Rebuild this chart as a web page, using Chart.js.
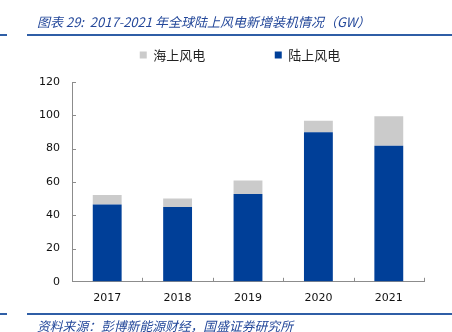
<!DOCTYPE html>
<html><head><meta charset="utf-8">
<script src="https://cdn.jsdelivr.net/npm/chart.js@4.4.1/dist/chart.umd.min.js"></script>
<style>
html,body{margin:0;padding:0;background:#fff;}
body{width:452px;height:332px;position:relative;overflow:hidden;font-family:"Noto Sans CJK SC","DejaVu Sans",sans-serif;}
#title{position:absolute;left:37px;top:12px;font-size:13px;font-style:italic;color:#24489a;white-space:nowrap;z-index:2;}
#footer{position:absolute;left:37px;top:318px;font-size:12.8px;line-height:15px;font-style:italic;color:#24489a;white-space:nowrap;z-index:2;}
.ln{position:absolute;height:2px;background:#2f5ea6;z-index:2;}
#wrap{position:absolute;left:0;top:-21px;width:452px;height:340px;}
</style></head><body>
<div id="wrap"><canvas id="c" width="452" height="340"></canvas></div>
<div id="title">图表 29:&nbsp; 2017-2021 年全球陆上风电新增装机情况（GW）</div>
<div class="ln" style="left:0;width:7px;top:34px"></div>
<div class="ln" style="left:27px;width:425px;top:34px"></div>
<div class="ln" style="left:0;width:7px;top:313px"></div>
<div class="ln" style="left:27px;width:425px;top:313px"></div>
<div id="footer">资料来源：彭博新能源财经，国盛证券研究所</div>
<script>
const categories = ["2017","2018","2019","2020","2021"];
const onshore = [46.4, 45.0, 52.8, 89.8, 81.7];
const offshore = [5.8, 5.0, 8.0, 7.0, 17.7];
const yTicks = [0,20,40,60,80,100,120];

const innerTicks = {
  id:'innerTicks',
  afterInit(chart){
    const lg = chart.legend;
    if (lg) {
      const f = lg.fit;
      lg.fit = function(){ f.call(this); this.height = 103; if (this.lineWidths) this.lineWidths[0] -= 16; };
    }
  },
  afterDraw(chart){
    const x = chart.scales.x, y = chart.scales.y, ctx = chart.ctx;
    const y0 = y.getPixelForValue(0);
    const x0 = Math.round(chart.chartArea.left);
    ctx.save();
    ctx.strokeStyle = '#8c8c8c'; ctx.lineWidth = 1;
    for (let i = 0; i < categories.length; i++) {
      const px = Math.round(x.getPixelForValue(i + 0.5)) + 0.5;
      ctx.beginPath(); ctx.moveTo(px, y0); ctx.lineTo(px, y0 - 4); ctx.stroke();
    }
    yTicks.forEach(v => {
      if (v === 0) return;
      const py = Math.round(y.getPixelForValue(v)) + 0.5;
      ctx.beginPath(); ctx.moveTo(x0, py); ctx.lineTo(x0 + 4, py); ctx.stroke();
    });
    ctx.restore();
  }
};

new Chart(document.getElementById('c'), {
  type:'bar',
  data:{
    labels: categories,
    datasets:[
      {label:'陆上风电', data:onshore, backgroundColor:'#003f98', borderWidth:0, categoryPercentage:1, barPercentage:0.41},
      {label:'海上风电', data:offshore, backgroundColor:'#cbcbcb', borderWidth:0, categoryPercentage:1, barPercentage:0.41}
    ]
  },
  options:{
    responsive:false, animation:false, devicePixelRatio:1,
    layout:{padding:{left:40,right:28,top:0,bottom:4}},
    plugins:{
      tooltip:{enabled:false},
      legend:{reverse:true, position:'top',
        labels:{boxWidth:7, boxHeight:7, padding:69.5, font:{family:'"Noto Sans CJK SC"', size:13}, color:'#222'}}
    },
    scales:{
      x:{stacked:true, offset:true,
        grid:{display:false, drawTicks:false},
        border:{color:'#8c8c8c'},
        ticks:{font:{family:'"DejaVu Sans"', size:11}, color:'#111', padding:10}},
      y:{stacked:true, min:0, max:120,
        afterBuildTicks(s){ s.ticks = yTicks.map(v=>({value:v})); },
        afterFit(s){ s.width = 32; },
        grid:{drawOnChartArea:false, drawTicks:false, color:'#8c8c8c'},
        border:{color:'#8c8c8c'},
        ticks:{autoSkip:false, font:{family:'"DejaVu Sans"', size:11}, color:'#111', padding:12}}
    }
  },
  plugins:[innerTicks]
});
</script>
</body></html>
